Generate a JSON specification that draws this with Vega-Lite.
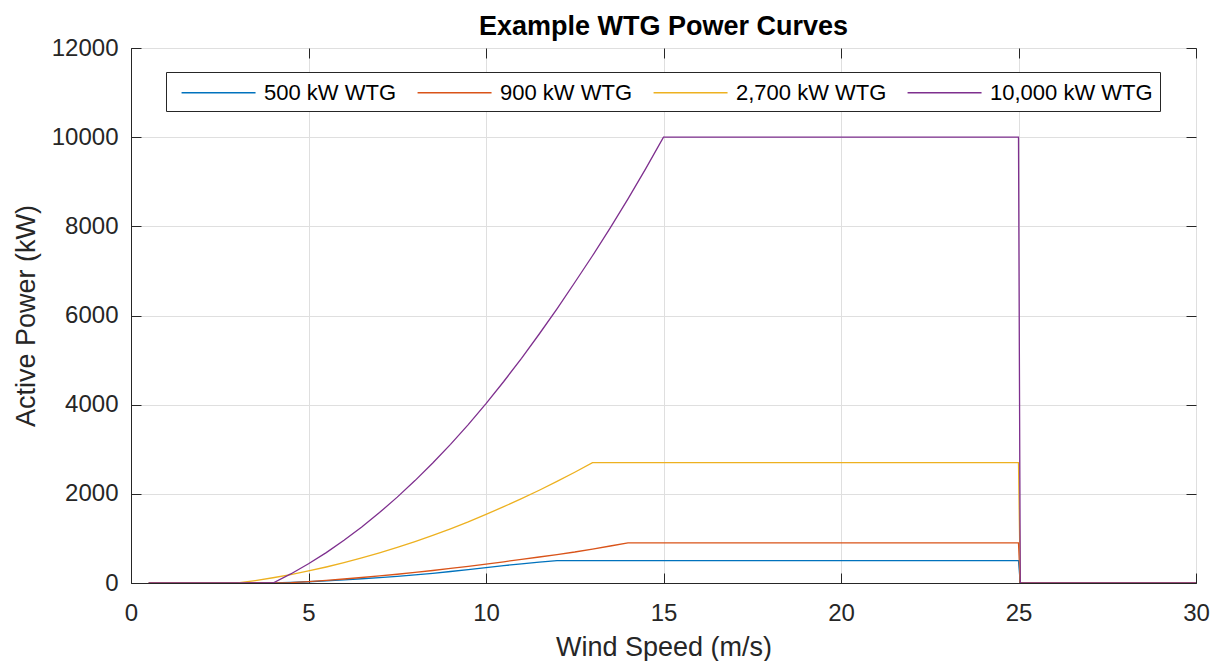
{
  "$schema": "https://vega.github.io/schema/vega-lite/v6.json",
  "width": 1065,
  "height": 535,
  "autosize": {"type": "none"},
  "padding": {"left": 131, "top": 48, "right": 21, "bottom": 78},
  "background": "white",
  "config": {
    "view": {"stroke": "#262626", "strokeWidth": 1},
    "font": "Liberation Sans"
  },
  "title": {"text": "Example WTG Power Curves", "fontSize": 27, "fontWeight": "bold", "font": "Liberation Sans", "color": "#000000", "anchor": "middle", "offset": -5},
  "datasets": {
    "curves": [
      {"t": "500 kW WTG", "ws": 0.5, "p": 0}, {"t": "500 kW WTG", "ws": 4, "p": 0}, {"t": "500 kW WTG", "ws": 4.5, "p": 12},
      {"t": "500 kW WTG", "ws": 5, "p": 28}, {"t": "500 kW WTG", "ws": 5.5, "p": 48}, {"t": "500 kW WTG", "ws": 6, "p": 70},
      {"t": "500 kW WTG", "ws": 6.5, "p": 95}, {"t": "500 kW WTG", "ws": 7, "p": 122}, {"t": "500 kW WTG", "ws": 7.5, "p": 150},
      {"t": "500 kW WTG", "ws": 8, "p": 182}, {"t": "500 kW WTG", "ws": 8.5, "p": 218}, {"t": "500 kW WTG", "ws": 9, "p": 258},
      {"t": "500 kW WTG", "ws": 9.5, "p": 300}, {"t": "500 kW WTG", "ws": 10, "p": 345}, {"t": "500 kW WTG", "ws": 10.5, "p": 390},
      {"t": "500 kW WTG", "ws": 11, "p": 430}, {"t": "500 kW WTG", "ws": 11.5, "p": 468}, {"t": "500 kW WTG", "ws": 12, "p": 500},
      {"t": "500 kW WTG", "ws": 25, "p": 500}, {"t": "500 kW WTG", "ws": 25.05, "p": 0}, {"t": "500 kW WTG", "ws": 30, "p": 0},
      {"t": "900 kW WTG", "ws": 0.5, "p": 0}, {"t": "900 kW WTG", "ws": 4, "p": 0}, {"t": "900 kW WTG", "ws": 4.5, "p": 9},
      {"t": "900 kW WTG", "ws": 5, "p": 33}, {"t": "900 kW WTG", "ws": 5.5, "p": 60}, {"t": "900 kW WTG", "ws": 6, "p": 90},
      {"t": "900 kW WTG", "ws": 6.5, "p": 123}, {"t": "900 kW WTG", "ws": 7, "p": 158}, {"t": "900 kW WTG", "ws": 7.5, "p": 196},
      {"t": "900 kW WTG", "ws": 8, "p": 237}, {"t": "900 kW WTG", "ws": 8.5, "p": 280}, {"t": "900 kW WTG", "ws": 9, "p": 326},
      {"t": "900 kW WTG", "ws": 9.5, "p": 375}, {"t": "900 kW WTG", "ws": 10, "p": 425}, {"t": "900 kW WTG", "ws": 10.5, "p": 476},
      {"t": "900 kW WTG", "ws": 11, "p": 529}, {"t": "900 kW WTG", "ws": 11.5, "p": 583}, {"t": "900 kW WTG", "ws": 12, "p": 638},
      {"t": "900 kW WTG", "ws": 12.5, "p": 695}, {"t": "900 kW WTG", "ws": 13, "p": 762}, {"t": "900 kW WTG", "ws": 13.5, "p": 830},
      {"t": "900 kW WTG", "ws": 14, "p": 900}, {"t": "900 kW WTG", "ws": 25, "p": 900}, {"t": "900 kW WTG", "ws": 25.05, "p": 0},
      {"t": "900 kW WTG", "ws": 30, "p": 0},
      {"t": "2,700 kW WTG", "ws": 0.5, "p": 0}, {"t": "2,700 kW WTG", "ws": 3, "p": 0}, {"t": "2,700 kW WTG", "ws": 3.5, "p": 55},
      {"t": "2,700 kW WTG", "ws": 4, "p": 118}, {"t": "2,700 kW WTG", "ws": 4.5, "p": 190}, {"t": "2,700 kW WTG", "ws": 5, "p": 270},
      {"t": "2,700 kW WTG", "ws": 5.5, "p": 359}, {"t": "2,700 kW WTG", "ws": 6, "p": 456}, {"t": "2,700 kW WTG", "ws": 6.5, "p": 561},
      {"t": "2,700 kW WTG", "ws": 7, "p": 675}, {"t": "2,700 kW WTG", "ws": 7.5, "p": 797}, {"t": "2,700 kW WTG", "ws": 8, "p": 928},
      {"t": "2,700 kW WTG", "ws": 8.5, "p": 1067}, {"t": "2,700 kW WTG", "ws": 9, "p": 1215}, {"t": "2,700 kW WTG", "ws": 9.5, "p": 1371},
      {"t": "2,700 kW WTG", "ws": 10, "p": 1540}, {"t": "2,700 kW WTG", "ws": 10.5, "p": 1712}, {"t": "2,700 kW WTG", "ws": 11, "p": 1892},
      {"t": "2,700 kW WTG", "ws": 11.5, "p": 2080}, {"t": "2,700 kW WTG", "ws": 12, "p": 2278}, {"t": "2,700 kW WTG", "ws": 12.5, "p": 2485},
      {"t": "2,700 kW WTG", "ws": 13, "p": 2700}, {"t": "2,700 kW WTG", "ws": 25, "p": 2700}, {"t": "2,700 kW WTG", "ws": 25.05, "p": 0},
      {"t": "2,700 kW WTG", "ws": 30, "p": 0},
      {"t": "10,000 kW WTG", "ws": 0.5, "p": 0}, {"t": "10,000 kW WTG", "ws": 4, "p": 0}, {"t": "10,000 kW WTG", "ws": 4.5, "p": 203},
      {"t": "10,000 kW WTG", "ws": 5, "p": 431}, {"t": "10,000 kW WTG", "ws": 5.5, "p": 682}, {"t": "10,000 kW WTG", "ws": 6, "p": 957},
      {"t": "10,000 kW WTG", "ws": 6.5, "p": 1256}, {"t": "10,000 kW WTG", "ws": 7, "p": 1579}, {"t": "10,000 kW WTG", "ws": 7.5, "p": 1926},
      {"t": "10,000 kW WTG", "ws": 8, "p": 2297}, {"t": "10,000 kW WTG", "ws": 8.5, "p": 2691}, {"t": "10,000 kW WTG", "ws": 9, "p": 3110},
      {"t": "10,000 kW WTG", "ws": 9.5, "p": 3553}, {"t": "10,000 kW WTG", "ws": 10, "p": 4025}, {"t": "10,000 kW WTG", "ws": 10.5, "p": 4520},
      {"t": "10,000 kW WTG", "ws": 11, "p": 5040}, {"t": "10,000 kW WTG", "ws": 11.5, "p": 5585}, {"t": "10,000 kW WTG", "ws": 12, "p": 6150},
      {"t": "10,000 kW WTG", "ws": 12.5, "p": 6740}, {"t": "10,000 kW WTG", "ws": 13, "p": 7340}, {"t": "10,000 kW WTG", "ws": 13.5, "p": 7965},
      {"t": "10,000 kW WTG", "ws": 14, "p": 8615}, {"t": "10,000 kW WTG", "ws": 14.5, "p": 9295}, {"t": "10,000 kW WTG", "ws": 15, "p": 10000},
      {"t": "10,000 kW WTG", "ws": 25, "p": 10000}, {"t": "10,000 kW WTG", "ws": 25.05, "p": 0}, {"t": "10,000 kW WTG", "ws": 30, "p": 0}
    ]
  },
  "data": {"name": "curves"},
  "layer": [
    {
      "mark": {"type": "line", "strokeWidth": 1.3, "clip": true},
      "encoding": {
        "x": {
          "field": "ws", "type": "quantitative",
          "scale": {"domain": [0, 30], "nice": false, "zero": false},
          "title": "Wind Speed (m/s)",
          "axis": {
            "orient": "bottom", "values": [0, 5, 10, 15, 20, 25, 30],
            "grid": true, "gridColor": "#dfdfdf", "gridWidth": 1,
            "domain": true, "domainColor": "#262626", "domainWidth": 1,
            "ticks": true, "tickSize": -10, "tickColor": "#262626", "tickWidth": 1,
            "labelPadding": 28, "labelFontSize": 24, "labelColor": "#262626", "labelFont": "Liberation Sans",
            "labelFlush": false,
            "titleFontSize": 27, "titleFontWeight": "normal", "titleColor": "#262626", "titleFont": "Liberation Sans", "titlePadding": 9
          }
        },
        "y": {
          "field": "p", "type": "quantitative",
          "scale": {"domain": [0, 12000], "nice": false},
          "title": "Active Power (kW)",
          "axis": {
            "orient": "left", "values": [0, 2000, 4000, 6000, 8000, 10000, 12000], "format": "d",
            "grid": true, "gridColor": "#dfdfdf", "gridWidth": 1,
            "domain": true, "domainColor": "#262626", "domainWidth": 1,
            "ticks": true, "tickSize": -10, "tickColor": "#262626", "tickWidth": 1,
            "labelPadding": 23, "labelFontSize": 24, "labelColor": "#262626", "labelFont": "Liberation Sans",
            "labelFlush": false,
            "titleFontSize": 27, "titleFontWeight": "normal", "titleColor": "#262626", "titleFont": "Liberation Sans", "titlePadding": 11
          }
        },
        "color": {
          "field": "t", "type": "nominal",
          "scale": {"domain": ["500 kW WTG", "900 kW WTG", "2,700 kW WTG", "10,000 kW WTG"], "range": ["#0072BD", "#D95319", "#EDB120", "#7E2F8E"]},
          "legend": {
            "title": null, "orient": "none", "legendX": 35, "legendY": 24, "direction": "horizontal",
            "symbolType": "M-0.4,0H5.6", "symbolSize": 608, "symbolStrokeWidth": 1.5,
            "labelFontSize": 22, "labelFont": "Liberation Sans", "labelColor": "#000000", "labelOffset": 64,
            "columnPadding": 12, "padding": 7, "fillColor": "#ffffff", "strokeColor": "#262626",
            "labelLimit": 300
          }
        }
      }
    },
    {
      "mark": {"type": "line", "opacity": 0},
      "encoding": {
        "x": {
          "field": "ws", "type": "quantitative",
          "axis": {"orient": "top", "values": [0, 5, 10, 15, 20, 25, 30], "grid": false, "labels": false, "title": null,
                   "domain": false, "ticks": true, "tickSize": -10, "tickColor": "#262626", "tickWidth": 1}
        },
        "y": {
          "field": "p", "type": "quantitative",
          "axis": {"orient": "right", "values": [0, 2000, 4000, 6000, 8000, 10000, 12000], "grid": false, "labels": false, "title": null,
                   "domain": false, "ticks": true, "tickSize": -10, "tickColor": "#262626", "tickWidth": 1}
        },
        "detail": {"field": "t"}
      }
    }
  ],
  "resolve": {"axis": {"x": "independent", "y": "independent"}}
}
